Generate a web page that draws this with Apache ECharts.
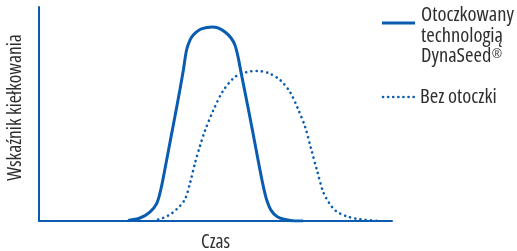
<!DOCTYPE html>
<html>
<head>
<meta charset="utf-8">
<script src="https://cdn.jsdelivr.net/npm/echarts@6/dist/echarts.min.js"></script>
<style>
html,body{margin:0;padding:0;background:#fff;}
#c{width:517px;height:251px;}
</style>
</head>
<body>
<div id="c"></div>
<script>
// Data (relative units: time 0-100, germination index 0-100)
var seriesNames = ['Otoczkowany technologią DynaSeed®', 'Bez otoczki'];
var legendLines1 = ['Otoczkowany', 'technologią', 'DynaSeed'];
var legendSup1 = '®';
var legendLine2 = 'Bez otoczki';
var coatedX = [25.2, 28.6, 31.4, 33.4, 34.6, 36.0, 37.4, 38.8, 39.9, 40.9, 41.8, 42.8, 43.7, 45.6, 47.6, 49.0, 50.7, 52.7, 54.4, 55.5, 56.4, 57.1, 58.4, 59.8, 61.2, 62.6, 63.7, 64.6, 65.7, 67.4, 69.7, 72.5, 74.8];
var coatedY = [0.2, 1.4, 4.2, 8.4, 15.4, 27.1, 39.3, 51.4, 61.2, 70.6, 79.9, 84.6, 86.9, 89.5, 90.4, 90.7, 90.2, 88.3, 85.5, 82.2, 76.6, 70.6, 59.8, 48.1, 36.0, 23.8, 15.0, 9.3, 5.1, 2.1, 0.7, 0, 0];
var uncoatedX = [32.3, 35.1, 37.7, 39.9, 41.4, 42.8, 44.2, 45.6, 47.0, 49.3, 52.1, 55.5, 58.9, 61.8, 64.9, 68.3, 71.1, 73.4, 75.4, 77.1, 78.8, 80.5, 82.2, 84.1, 87.3, 90.9, 96.6];
var uncoatedY = [0, 1.4, 3.7, 7.0, 10.3, 17.8, 27.1, 35.0, 42.1, 51.4, 60.7, 67.3, 69.6, 70.1, 69.2, 65.9, 60.3, 52.3, 43.9, 33.6, 23.4, 13.6, 8.4, 4.7, 2.1, 0.8, 0];
var xAxisName = 'Czas';
var yAxisName = 'Wskaźnik kiełkowania';

function pairs(xs, ys) { return xs.map(function (x, i) { return [x, ys[i]]; }); }

var BLUE = '#0a5cb0';
var TEXT = '#2e2e2e';
var FAMILY = '"Open Sans", "Noto Sans", sans-serif';
function font(size) { return 'normal condensed ' + size + 'px ' + FAMILY; }

var LEG = 20.5;
// measure width of "DynaSeed" for placing the superscript mark
var ctx = document.createElement('canvas').getContext('2d');
ctx.font = font(LEG);
var dynaW = ctx.measureText(legendLines1[2]).width;

var chart = echarts.init(document.getElementById('c'), null, {renderer: 'canvas'});
chart.setOption({
  animation: false,
  backgroundColor: '#fff',
  grid: {left: 39, right: 125, top: 7, bottom: 30, containLabel: false, outerBoundsMode: 'none'},
  xAxis: {
    type: 'value', min: 0, max: 100,
    name: xAxisName, nameLocation: 'middle', nameGap: 11,
    nameTextStyle: {color: TEXT, fontSize: 19.5, fontFamily: FAMILY, fontWeight: 'condensed'},
    axisLine: {show: true, lineStyle: {color: BLUE, width: 2}},
    axisTick: {show: false}, axisLabel: {show: false}, splitLine: {show: false}
  },
  yAxis: {
    type: 'value', min: 0, max: 100,
    name: yAxisName, nameLocation: 'middle', nameGap: 14, nameRotate: 90,
    nameTextStyle: {color: TEXT, fontSize: 19.5, fontFamily: FAMILY, fontWeight: 'condensed', padding: [0, 0, 0, 13]},
    axisLine: {show: true, lineStyle: {color: BLUE, width: 2}},
    axisTick: {show: false}, axisLabel: {show: false}, splitLine: {show: false}
  },
  series: [
    {
      name: seriesNames[0], type: 'line', data: pairs(coatedX, coatedY),
      smooth: 0.3, showSymbol: false, symbol: 'none',
      lineStyle: {color: BLUE, width: 3}, z: 3
    },
    {
      name: seriesNames[1], type: 'line', data: pairs(uncoatedX, uncoatedY),
      smooth: 0.3, showSymbol: false, symbol: 'none',
      lineStyle: {color: BLUE, width: 2.6, type: [0.1, 5.2], cap: 'round'}, z: 2
    }
  ],
  graphic: [
    {type: 'line', shape: {x1: 382, y1: 23, x2: 415, y2: 23}, style: {stroke: BLUE, lineWidth: 3}},
    {type: 'text', style: {x: 421, y: 15, verticalAlign: 'middle', text: legendLines1[0], fill: TEXT, font: font(LEG)}},
    {type: 'text', style: {x: 421, y: 36, verticalAlign: 'middle', text: legendLines1[1], fill: TEXT, font: font(LEG)}},
    {type: 'text', style: {x: 421, y: 56, verticalAlign: 'middle', text: legendLines1[2], fill: TEXT, font: font(LEG)}},
    {type: 'text', style: {x: 421 + dynaW + 0.5, y: 47.5, verticalAlign: 'top', text: legendSup1, fill: TEXT, font: font(12.5)}},
    {type: 'line', shape: {x1: 383, y1: 97, x2: 415, y2: 97}, style: {stroke: BLUE, lineWidth: 2.6, lineDash: [0.1, 5], lineCap: 'round'}},
    {type: 'text', style: {x: 420, y: 97.3, verticalAlign: 'middle', text: legendLine2, fill: TEXT, font: font(LEG)}}
  ]
});
</script>
</body>
</html>
